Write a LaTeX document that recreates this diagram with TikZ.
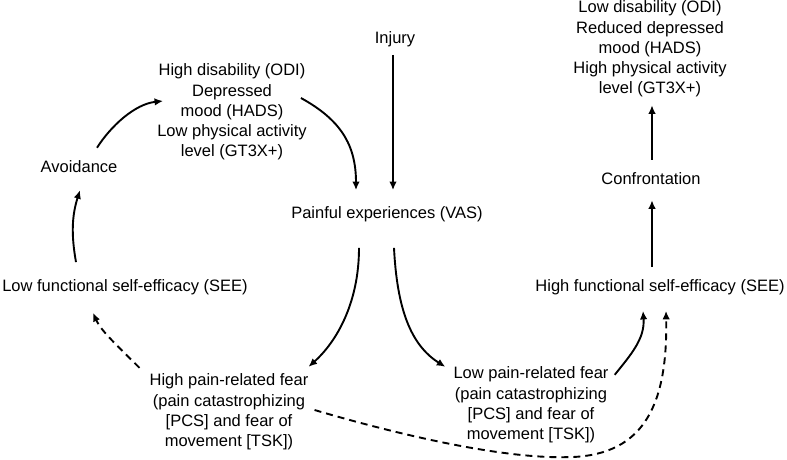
\documentclass[tikz,border=0pt]{standalone}
\usepackage{fontspec}
\setmainfont{Liberation Sans}
\usetikzlibrary{arrows.meta,calc}

\begin{document}
\begin{tikzpicture}[x=1pt,y=-1pt,
        txt/.style={inner sep=0pt,align=center,font=\fontsize{16.5}{20.2}\selectfont},
        link/.style={line width=1.9pt,-{Latex[length=8.5pt,width=7.5pt]}},
        dlink/.style={link,dash pattern=on 7pt off 5pt}]
        \useasboundingbox (0,0) rectangle (787,460);

        \node[txt] (inj) at (395,39) {Injury};
        \node[txt] (pain) at (387,214) {Painful experiences (VAS)};
        \node[txt] (hd) at (232,112) {High disability (ODI)\\Depressed\\mood (HADS)\\Low physical activity\\level (GT3X+)};
        \node[txt] (avoid) at (79,167) {Avoidance};
        \node[txt] (lfse) at (125,287) {Low functional self-efficacy (SEE)};
        \node[txt] (hpf) at (229,412) {High pain-related fear\\(pain catastrophizing\\{[PCS]} and fear of\\movement [TSK])};
        \node[txt] (lpf) at (531,405) {Low pain-related fear\\(pain catastrophizing\\{[PCS]} and fear of\\movement [TSK])};
        \node[txt] (hfse) at (660,287) {High functional self-efficacy (SEE)};
        \node[txt] (conf) at (651,179) {Confrontation};
        \node[txt] (res) at (650,49) {Low disability (ODI)\\Reduced depressed\\mood (HADS)\\High physical activity\\level (GT3X+)};

        % avoidance side
        \draw[link] ($(inj.south)+(-2,8)$) -- ($(pain.north)+(6,-16)$);
        \draw[link] ($(hd.east)+(-6,-14)$) .. controls +(40,22) and +(0,-45) .. ($(pain.north)+(-31,-16)$);
        \draw[link] ($(avoid.north)+(18,-13)$) .. controls +(14,-22) and +(-28,3) .. ($(hd.west)+(6,-11)$);
        \draw[link] ($(lfse.north)+(-49,-17)$) .. controls +(-5,-28) and +(-8,25) .. ($(avoid.south)+(1,17)$);
        \draw[dlink] ($(hpf.north west)+(-10,-6)$) .. controls +(-22,-22) and +(8,18) .. ($(lfse.south)+(-32,18)$);
        \draw[link] ($(pain.south)+(-28,26)$) .. controls +(0,55) and +(28,-25) .. ($(hpf.north east)+(0,-7)$);

        % confrontation side
        \draw[link] ($(pain.south)+(7,26)$) .. controls +(3,60) and +(-35,-22) .. ($(lpf.north west)+(-8,0)$);
        \draw[link] ($(lpf.north east)+(6,8)$) .. controls +(16,-20) and +(2,28) .. ($(hfse.south)+(-17,16)$);
        \draw[dlink] ($(hpf.east)+(6,-2)$) .. controls +(85,25) and +(-65,1) .. ($(lpf.south)+(34,14)$)
            .. controls +(75,0) and +(2,100) .. ($(hfse.south)+(6,16)$);
        \draw[link] ($(hfse.north)+(-8,-12)$) -- ($(conf.south)+(1,15)$);
        \draw[link] ($(conf.north)+(1,-13)$) -- ($(res.south)+(2,8)$);
    \end{tikzpicture}
\end{document}
